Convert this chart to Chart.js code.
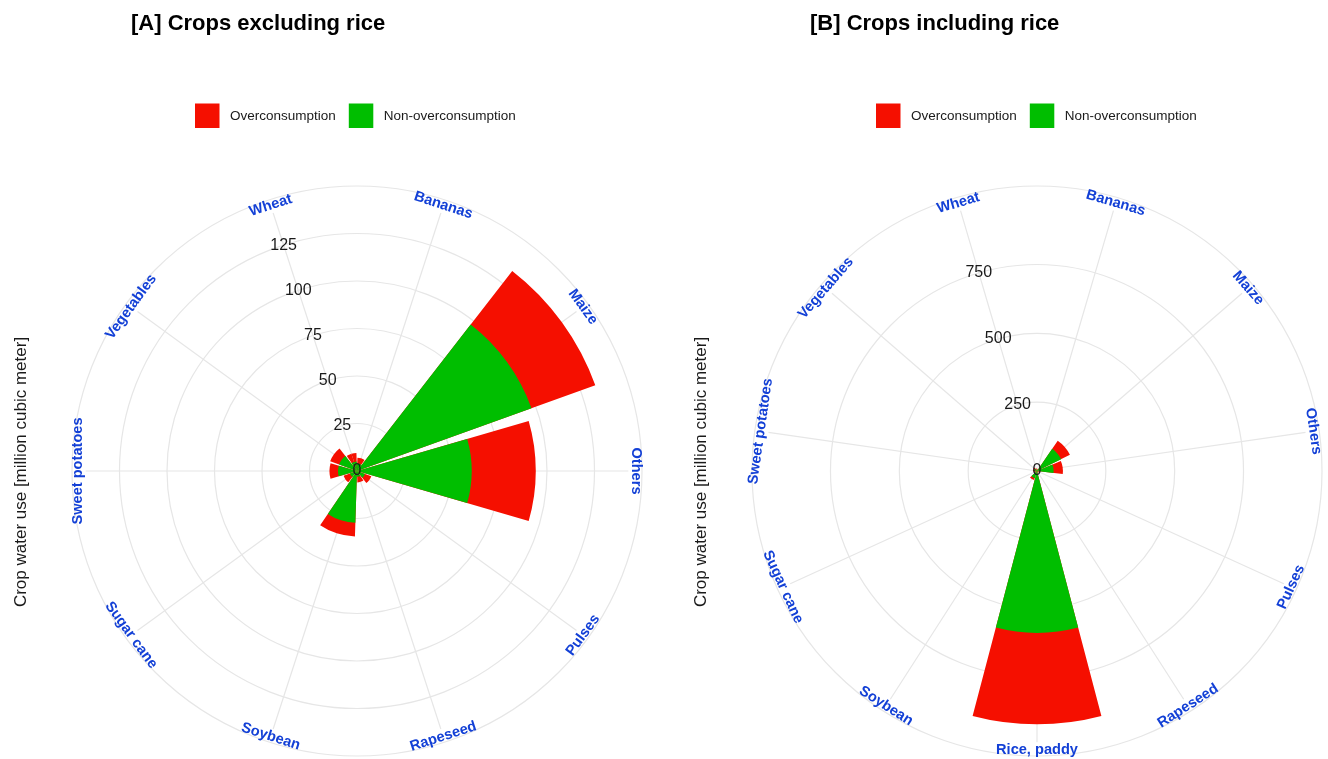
<!DOCTYPE html>
<html>
<head>
<meta charset="utf-8">
<script src="https://cdn.jsdelivr.net/npm/chart.js@4.4.1/dist/chart.umd.min.js"></script>
<style>
  html, body { margin: 0; padding: 0; background: #ffffff; }
  #wrap { position: relative; width: 1328px; height: 759px; overflow: hidden; }
  canvas { position: absolute; top: 0; }
  #panelA { left: 0; }
  #panelB { left: 664px; }
</style>
</head>
<body>
<div id="wrap">
  <canvas id="panelA" width="664" height="759"></canvas>
  <canvas id="panelB" width="664" height="759"></canvas>
</div>
<script>
// Crop categories (in plotting order, clockwise from the top)
const cropsA = ['Wheat', 'Bananas', 'Maize', 'Others', 'Pulses', 'Rapeseed',
                'Soybean', 'Sugar cane', 'Sweet potatoes', 'Vegetables'];
const cropsB = ['Wheat', 'Bananas', 'Maize', 'Others', 'Pulses', 'Rapeseed',
                'Rice, paddy', 'Soybean', 'Sugar cane', 'Sweet potatoes', 'Vegetables'];

// Crop water use [million cubic meter]
const overA    = [4.5, 3.0, 35.7, 33.7, 3.5, 3.0, 7.2, 3.5, 4.5, 5.0];
const nonOverA = [5.0, 4.0, 97.6, 60.4, 4.5, 3.0, 27.3, 4.0, 10.0, 10.0];
const overB    = [4.5, 3.0, 35.7, 33.7, 3.5, 3.0, 332, 7.2, 3.5, 4.5, 5.0];
const nonOverB = [5.0, 4.0, 97.6, 60.4, 4.5, 3.0, 588, 27.3, 4.0, 10.0, 10.0];

// Radial tick labels
const ticksA = [0, 25, 50, 75, 100, 125];
const ticksB = [0, 250, 500, 750];

// Outer ring of each panel
const rOuterA = 150;
const rOuterB = 1035;

const RED = '#f50f00';
const GREEN = '#00be00';
const GRID = '#e6e6e6';
const LABEL_BLUE = '#1340d6';
const FONT = "'Liberation Sans', Arial, Helvetica, sans-serif";

// Each category gets a bar 90% of its angular slot, centred on its spoke.
// The first category straddles the start angle, so it is split in two halves.
function arcLayout(values) {
  const n = values.length;
  const slot = 360 / n, bar = slot * 0.9, gap = slot - bar;
  const data = [values[0]], angle = [bar / 2];
  for (let i = 1; i < n; i++) { data.push(0, values[i]); angle.push(gap, bar); }
  data.push(0, values[0]); angle.push(gap, bar / 2);
  return { data, angle };
}

const panelDecor = {
  id: 'panelDecor',
  beforeDatasetsDraw(chart, args, o) {
    const s = chart.scales.r, ctx = chart.ctx;
    const end = s.drawingArea * o.spokeFrac;
    ctx.save();
    ctx.strokeStyle = GRID;
    ctx.lineWidth = 1.2;
    for (let i = 0; i < chart.data.labels.length; i++) {
      const p = s.getPointPosition(i, end);
      ctx.beginPath();
      ctx.moveTo(s.xCenter, s.yCenter);
      ctx.lineTo(p.x, p.y);
      ctx.stroke();
    }
    ctx.restore();
  },
  afterDraw(chart, args, o) {
    const s = chart.scales.r, ctx = chart.ctx;
    ctx.save();

    // category labels, set tangentially around the outer ring
    ctx.fillStyle = LABEL_BLUE;
    ctx.font = 'bold 14.6px ' + FONT;
    ctx.textAlign = 'center';
    ctx.textBaseline = 'middle';
    const labR = s.drawingArea * o.labelFrac;
    chart.data.labels.forEach((lab, i) => {
      const p = s.getPointPosition(i, labR);
      let deg = s.getIndexAngle(i) * 180 / Math.PI;
      if (deg > 180) deg -= 360;
      if (deg > 90) deg -= 180;
      if (deg < -90) deg += 180;
      ctx.save();
      ctx.translate(p.x, p.y);
      ctx.rotate(deg * Math.PI / 180);
      ctx.fillText(lab, 0, 0);
      ctx.restore();
    });

    // radial tick labels along the first spoke
    ctx.fillStyle = '#1a1a1a';
    ctx.font = '16px ' + FONT;
    o.ticks.forEach(v => {
      const p = s.getPointPosition(0, s.getDistanceFromCenterForValue(v));
      ctx.fillText(String(v), p.x, p.y);
    });

    // panel title
    ctx.textAlign = 'left';
    ctx.textBaseline = 'alphabetic';
    ctx.fillStyle = '#000000';
    ctx.font = 'bold 22px ' + FONT;
    ctx.fillText(o.title, o.titleX, 30);

    // legend
    ctx.font = '13.5px ' + FONT;
    ctx.textBaseline = 'middle';
    let x = o.legendX;
    [['Overconsumption', RED], ['Non-overconsumption', GREEN]].forEach(([t, c]) => {
      ctx.fillStyle = c;
      ctx.fillRect(x, 103.5, 24.5, 24.5);
      ctx.fillStyle = '#1a1a1a';
      ctx.fillText(t, x + 35, 116);
      x += 35 + ctx.measureText(t).width + 13;
    });

    // radial axis title
    ctx.save();
    ctx.translate(o.yTitleX, 472);
    ctx.rotate(-Math.PI / 2);
    ctx.textAlign = 'center';
    ctx.fillStyle = '#1a1a1a';
    ctx.font = '17px ' + FONT;
    ctx.fillText('Crop water use [million cubic meter]', 0, 0);
    ctx.restore();

    ctx.restore();
  }
};

function makePanel(canvasId, crops, over, nonOver, ticks, rOuter, geom) {
  const total = over.map((v, i) => v + nonOver[i]);
  const inner = arcLayout(nonOver);
  const outer = arcLayout(total);
  const n = crops.length;
  const R = 285;
  return new Chart(document.getElementById(canvasId), {
    type: 'polarArea',
    data: {
      labels: crops,
      datasets: [
        {
          label: 'Non-overconsumption',
          data: inner.data,
          backgroundColor: GREEN,
          borderWidth: 0,
          angle: c => inner.angle[c.dataIndex],
          order: 0
        },
        {
          label: 'Overconsumption',
          data: outer.data,
          backgroundColor: RED,
          borderWidth: 0,
          angle: c => outer.angle[c.dataIndex],
          order: 1
        }
      ]
    },
    options: {
      responsive: false,
      animation: false,
      events: [],
      layout: {
        padding: {
          left: geom.cx - R,
          right: 664 - geom.cx - R,
          top: geom.cy - R,
          bottom: 759 - geom.cy - R
        }
      },
      scales: {
        r: {
          min: 0,
          max: rOuter,
          startAngle: -180 / n,
          afterBuildTicks: sc => {
            sc.ticks = ticks.concat([rOuter]).map(v => ({ value: v }));
          },
          ticks: { display: false },
          grid: { circular: true, color: GRID, lineWidth: 1.2 },
          angleLines: { display: false },
          pointLabels: { display: false }
        }
      },
      plugins: {
        legend: { display: false },
        tooltip: { enabled: false },
        panelDecor: {
          ticks: ticks,
          spokeFrac: 0.952,
          labelFrac: 0.98,
          title: geom.title,
          titleX: geom.titleX,
          legendX: geom.legendX,
          yTitleX: geom.yTitleX
        }
      }
    },
    plugins: [panelDecor]
  });
}

makePanel('panelA', cropsA, overA, nonOverA, ticksA, rOuterA,
  { cx: 357, cy: 471, title: '[A] Crops excluding rice', titleX: 131, legendX: 195, yTitleX: 21 });
makePanel('panelB', cropsB, overB, nonOverB, ticksB, rOuterB,
  { cx: 373, cy: 471, title: '[B] Crops including rice', titleX: 146, legendX: 212, yTitleX: 37 });
</script>
</body>
</html>
